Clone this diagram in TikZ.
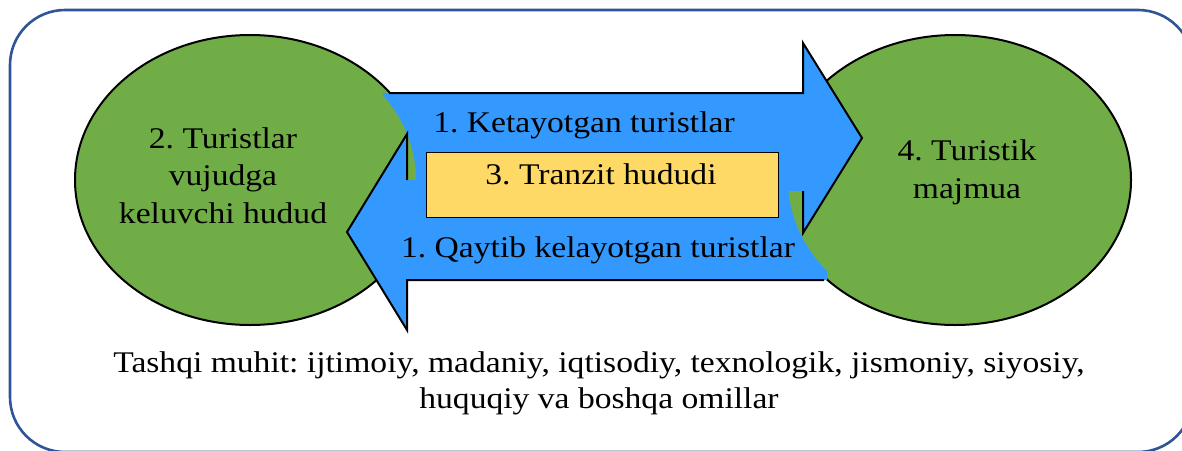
\documentclass[tikz,border=0pt]{standalone}
\usepackage{fontspec}
\setmainfont{Liberation Serif}[FakeStretch=1.12]
\frenchspacing
\definecolor{bordercol}{HTML}{2F5597}
\definecolor{ellgreen}{HTML}{70AD47}
\definecolor{arrblue}{HTML}{3399FF}
\definecolor{boxyellow}{HTML}{FFD966}
\begin{document}
\frenchspacing
\begin{tikzpicture}[x=1pt,y=-1pt,
  region/.style={fill=ellgreen,draw=black,line width=2pt},
  lbl/.style={font=\fontsize{30}{37.5}\selectfont,align=center,anchor=base,inner sep=0pt},
  envlbl/.style={font=\fontsize{30}{35.5}\selectfont,align=center,anchor=base,inner sep=0pt},
  outl/.style={draw=black,line width=2pt,line join=miter},
  patch/.style={fill=ellgreen}]
\path[use as bounding box] (0,0) rectangle (1182,450);
\begin{scope}
  \clip (0,0) rectangle (1182,450);
  \draw[bordercol,line width=2.6pt,rounded corners=55pt] (10,10) rectangle (1193,452);
\end{scope}
% regions
\path[region] (250,180) ellipse [x radius=175,y radius=145];
\path[region] (955,180) ellipse [x radius=176,y radius=145];
% outgoing arrow fill
\fill[arrblue] (383,93) -- (803,93) -- (803,43) -- (862,138) -- (803,233) -- (803,183) -- (383,183) -- cycle;
\begin{scope}
  \clip (372,93) rectangle (420,180);
  \fill[patch] (241,180) ellipse [x radius=175,y radius=145];
\end{scope}
% returning arrow fill
\fill[arrblue] (827,180) -- (407,180) -- (407,134) -- (347,232) -- (407,330) -- (407,280) -- (827,280) -- cycle;
\begin{scope}
  \clip (780,191) rectangle (828,279);
  \fill[patch] (964,180) ellipse [x radius=176,y radius=145];
\end{scope}
\fill[arrblue] (803,43) -- (862,138) -- (803,233) -- cycle;
% outlines
\draw[outl] (389,93) -- (803,93) -- (803,43) -- (862,138) -- (803,233) -- (803,191);
\draw[outl] (407,180) -- (407,134) -- (347,232) -- (407,330) -- (407,280) -- (824,280);
% transit box
\node[draw=black,line width=0.8pt,fill=boxyellow,minimum width=352pt,minimum height=65pt,inner sep=0pt] (tranzit) at (602,184.5) {};
% labels (base anchor = baseline of last line)
\node[lbl] (origin) at (223,223) {2. Turistlar\\vujudga\\keluvchi hudud};
\node[lbl] (dest) at (967,198) {4. Turistik\\majmua};
\node[lbl] (outgoing) at (584,132) {1. Ketayotgan turistlar};
\node[lbl] (tranzittext) at (601,184) {3. Tranzit hududi};
\node[lbl] (returning) at (598,257) {1. Qaytib kelayotgan turistlar};
\node[envlbl] (env) at (599,408) {Tashqi muhit: ijtimoiy, madaniy, iqtisodiy, texnologik, jismoniy, siyosiy,\\huquqiy va boshqa omillar};
\end{tikzpicture}
\end{document}
